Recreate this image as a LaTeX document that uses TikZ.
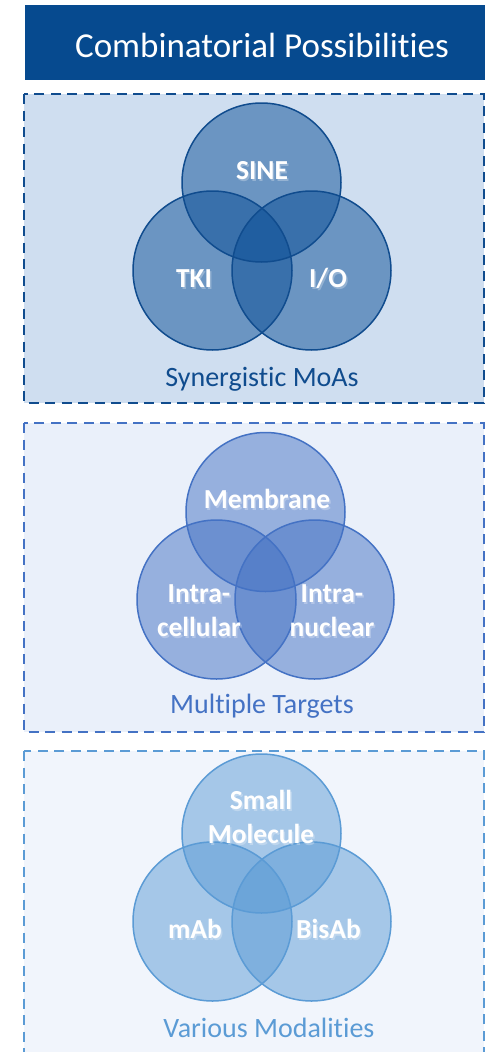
\documentclass[tikz,border=0pt]{standalone}
\usepackage{fontspec}
\setmainfont{Carlito}[Ligatures=NoCommon]
\usetikzlibrary{calc}

\definecolor{titleblue}{RGB}{6,74,143}
\definecolor{deepline}{RGB}{16,76,142}
\definecolor{deepbg}{RGB}{207,222,240}
\definecolor{deepfill}{RGB}{8,77,150}
\definecolor{midline}{RGB}{68,114,196}
\definecolor{midbg}{RGB}{234,240,250}
\definecolor{paleline}{RGB}{91,155,213}
\definecolor{palebg}{RGB}{241,245,252}

\tikzset{
  panelbox/.style={line width=2.7pt, dash pattern=on 10pt off 6.5pt},
  ring/.style={circle, minimum size=159pt, inner sep=0pt, fill opacity=0.5},
  ringline/.style={line width=1.5pt},
  lbl/.style={text=white, font=\fontsize{27.5}{34}\selectfont\bfseries, inner sep=0pt, anchor=base},
  caption/.style={font=\fontsize{28}{34}\selectfont, inner sep=0pt, anchor=base},
}

% white label text with a dark drop shadow underneath
\newsavebox\lblbox
\newcommand\shadowed[1]{%
  \sbox\lblbox{\begin{tabular}[t]{@{}c@{}}#1\end{tabular}}%
  \makebox[0pt][l]{\hspace*{1.5pt}\raisebox{-2.2pt}{\pgfsetfillopacity{0.28}\color{black}\usebox\lblbox\pgfsetfillopacity{1}}}%
  \usebox\lblbox}

\begin{document}
\begin{tikzpicture}[x=1pt,y=-1pt]
\clip (0,0) rectangle (487,1052);
\fill[white] (0,0) rectangle (487,1052);

% title bar
\node[fill=titleblue, minimum width=460pt, minimum height=75pt, inner sep=0pt, anchor=north west] (bar) at (25,5) {};
\node[text=white, font=\fontsize{35}{40}\selectfont, anchor=base, inner sep=0pt] (title) at (262,57) {Combinatorial Possibilities};

% ---------- panel 1: mechanisms of action ----------
\draw[panelbox, draw=deepline, fill=deepbg] (24,94) rectangle (484,403);
\node[ring, fill=deepfill] (sine) at (261.5,182.5) {};
\node[ring, fill=deepfill] (tki) at (212.5,270.5) {};
\node[ring, fill=deepfill] (io) at (311.5,270.5) {};
\foreach \c in {sine,tki,io} \draw[ringline, draw=deepline] (\c.center) circle (79.5);
\node[lbl] (sinelbl) at (262,179) {\shadowed{SINE}};
\node[lbl] (tkilbl) at (194,287) {\shadowed{TKI}};
\node[lbl] (iolbl) at (328,287) {\shadowed{I/O}};
\node[caption, text=deepline] (cap1) at (262,386) {Synergistic MoAs};

% ---------- panel 2: targets ----------
\draw[panelbox, draw=midline, fill=midbg] (24,423) rectangle (484,732);
\node[ring, fill=midline] (memb) at (265.5,512) {};
\node[ring, fill=midline] (cell) at (216.5,599.5) {};
\node[ring, fill=midline] (nucl) at (314.5,599.5) {};
\foreach \c in {memb,cell,nucl} \draw[ringline, draw=midline] (\c.center) circle (79.5);
\node[lbl] (memblbl) at (267,508) {\shadowed{Membrane}};
\node[lbl] (celllbl) at (199,602) {\shadowed{Intra-\\cellular}};
\node[lbl] (nucllbl) at (332,602) {\shadowed{Intra-\\nuclear}};
\node[caption, text=midline] (cap2) at (262,713) {Multiple Targets};

% ---------- panel 3: modalities ----------
\draw[panelbox, draw=paleline, fill=palebg] (24,751) rectangle (484,1070);
\node[ring, fill=paleline] (small) at (261.5,833.5) {};
\node[ring, fill=paleline] (mab) at (212.5,921.5) {};
\node[ring, fill=paleline] (bisab) at (311.5,921.5) {};
\foreach \c in {small,mab,bisab} \draw[ringline, draw=paleline] (\c.center) circle (79.5);
\node[lbl] (smalllbl) at (261,809) {\shadowed{Small\\Molecule}};
\node[lbl] (mablbl) at (195,938) {\shadowed{mAb}};
\node[lbl] (bisablbl) at (328.5,938) {\shadowed{BisAb}};
\node[caption, text=paleline] (cap3) at (269,1037) {Various Modalities};
\end{tikzpicture}
\end{document}
